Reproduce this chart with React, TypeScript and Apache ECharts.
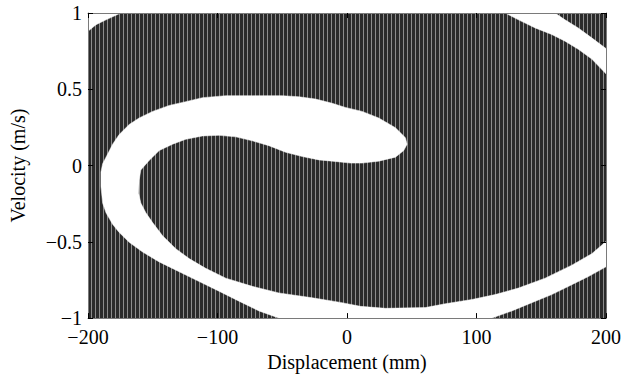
import React, { useEffect, useRef } from "react";
import * as echarts from "echarts";

// Axis ticks
const xTicks = [-200, -100, 0, 100, 200];
const yTicks = [-1, -0.5, 0, 0.5, 1];

// White basin regions (Displacement mm, Velocity m/s)
const spiralBand: [number, number][] = [
  [46.4, 0.14], [45.1, 0.183], [37.4, 0.248], [24.5, 0.312], [11.7, 0.355], [-1.2, 0.381],
  [-11.4, 0.408], [-24.3, 0.436], [-37.1, 0.451], [-49.9, 0.458], [-73.1, 0.458], [-93.6, 0.458],
  [-111.6, 0.445], [-124.5, 0.419], [-137.3, 0.394], [-150.1, 0.355], [-160.5, 0.312],
  [-168.2, 0.269], [-175.9, 0.204], [-181.0, 0.14], [-184.8, 0.076], [-188.7, 0.012],
  [-190.0, -0.042], [-190.0, -0.138], [-188.7, -0.246], [-186.1, -0.31], [-181.0, -0.385],
  [-175.9, -0.439], [-168.2, -0.503], [-157.8, -0.567], [-145.0, -0.632], [-129.6, -0.696],
  [-114.2, -0.76], [-98.8, -0.824], [-83.4, -0.889], [-68.0, -0.953], [-52.6, -1.0],
  [111.9, -1.0], [127.3, -0.953], [142.7, -0.899], [158.1, -0.846], [173.6, -0.781],
  [186.4, -0.728], [200, -0.664], [200, -0.498], [189.0, -0.578], [173.6, -0.653],
  [153.0, -0.738], [132.4, -0.803], [114.4, -0.846], [96.5, -0.878], [75.9, -0.906],
  [60.5, -0.931], [29.7, -0.936], [10.4, -0.923], [-5.0, -0.897], [-26.8, -0.867],
  [-52.6, -0.835], [-73.1, -0.792], [-93.6, -0.738], [-109.1, -0.674], [-121.9, -0.61],
  [-132.2, -0.545], [-142.4, -0.46], [-150.1, -0.374], [-155.3, -0.31], [-159.2, -0.246],
  [-160.9, -0.181], [-160.5, -0.095], [-159.2, -0.029], [-152.8, 0.033], [-145.0, 0.098],
  [-134.7, 0.14], [-124.5, 0.172], [-111.6, 0.194], [-98.8, 0.198], [-85.9, 0.188],
  [-73.1, 0.162], [-60.3, 0.13], [-47.4, 0.087], [-34.5, 0.059], [-21.7, 0.037],
  [-11.4, 0.029], [2.7, 0.016], [11.7, 0.016], [24.5, 0.029], [37.4, 0.055], [43.8, 0.098],
];

const topRightBand: [number, number][] = [
  [122.2, 1], [160.7, 1], [168.4, 0.955], [178.6, 0.902], [189.0, 0.837], [200, 0.767],
  [200, 0.601], [189.0, 0.698], [178.6, 0.762], [168.4, 0.815], [158.1, 0.859],
  [145.3, 0.902], [132.4, 0.955],
];

const topLeftCorner: [number, number][] = [
  [-200, 1], [-174.6, 1], [-186.1, 0.955], [-193.8, 0.923], [-200, 0.88],
];

const FONT = "'Liberation Serif', 'Times New Roman', serif";
const fmt = (v: number) => String(v).replace("-", "\u2212");

function makeStripes(): any {
  try {
    const c = document.createElement("canvas");
    c.width = 4;
    c.height = 2;
    const ctx = c.getContext("2d")!;
    ctx.fillStyle = "#2a2a2a";
    ctx.fillRect(0, 0, 4, 2);
    ctx.fillStyle = "#8c8c8c";
    ctx.fillRect(3, 0, 1, 2);
    return { image: c, repeat: "repeat" };
  } catch (e) {
    return "#3e3e3e";
  }
}

export default function App() {
  const ref = useRef<HTMLDivElement>(null);
  useEffect(() => {
    const chart = echarts.init(ref.current!, null, { renderer: "svg" });
    const stripes = makeStripes();
    const background = {
      type: "custom",
      coordinateSystem: "cartesian2d",
      data: [[xTicks[0], yTicks[0]]],
      clip: true,
      silent: true,
      z: 2,
      renderItem: (_p: any, api: any) => {
        const a = api.coord([xTicks[0], yTicks[yTicks.length - 1]]);
        const b = api.coord([xTicks[xTicks.length - 1], yTicks[0]]);
        return {
          type: "rect",
          shape: { x: a[0], y: a[1], width: b[0] - a[0], height: b[1] - a[1] },
          style: { fill: stripes },
        };
      },
    };
    const poly = (pts: [number, number][]) => ({
      type: "custom",
      coordinateSystem: "cartesian2d",
      data: [[pts[0][0], pts[0][1]]],
      clip: true,
      silent: true,
      z: 3,
      renderItem: (_p: any, api: any) => ({
        type: "polygon",
        shape: { points: pts.map((p) => api.coord(p)) },
        style: { fill: "#ffffff", stroke: "#ffffff", lineWidth: 0.5 },
      }),
    });
    const baseAxis = (isX: boolean, main: boolean) => ({
      type: "value",
      min: isX ? xTicks[0] : yTicks[0],
      max: isX ? xTicks[xTicks.length - 1] : yTicks[yTicks.length - 1],
      interval: isX ? xTicks[1] - xTicks[0] : yTicks[1] - yTicks[0],
      position: isX ? (main ? "bottom" : "top") : main ? "left" : "right",
      z: 10,
      axisLine: { show: true, onZero: false, lineStyle: { color: "#7a7a7a", width: 1 } },
      axisTick: { show: true, inside: true, length: 5, lineStyle: { color: "#000", width: 1 } },
      splitLine: { show: false },
      axisLabel: {
        show: main,
        fontFamily: FONT,
        fontSize: 20,
        color: "#000",
        margin: isX ? 9 : 6,
        formatter: fmt,
      },
    });
    chart.setOption({
      animation: false,
      backgroundColor: "#ffffff",
      grid: { left: 86, top: 13, width: 520, height: 312 },
      xAxis: [
        {
          ...baseAxis(true, true),
          name: "Displacement (mm)",
          nameLocation: "middle",
          nameGap: 28,
          nameTextStyle: { fontFamily: FONT, fontSize: 20, color: "#000", verticalAlign: "top" },
        },
        baseAxis(true, false),
      ],
      yAxis: [
        {
          ...baseAxis(false, true),
          name: "Velocity (m/s)",
          nameLocation: "middle",
          nameGap: 60,
          nameTextStyle: { fontFamily: FONT, fontSize: 20, color: "#000" },
        },
        baseAxis(false, false),
      ],
      series: [background, poly(spiralBand), poly(topRightBand), poly(topLeftCorner)],
    });
    return () => chart.dispose();
  }, []);
  return (
    <div
      ref={ref}
      style={{ position: "fixed", left: 0, top: 0, width: 633, height: 377 }}
    />
  );
}
